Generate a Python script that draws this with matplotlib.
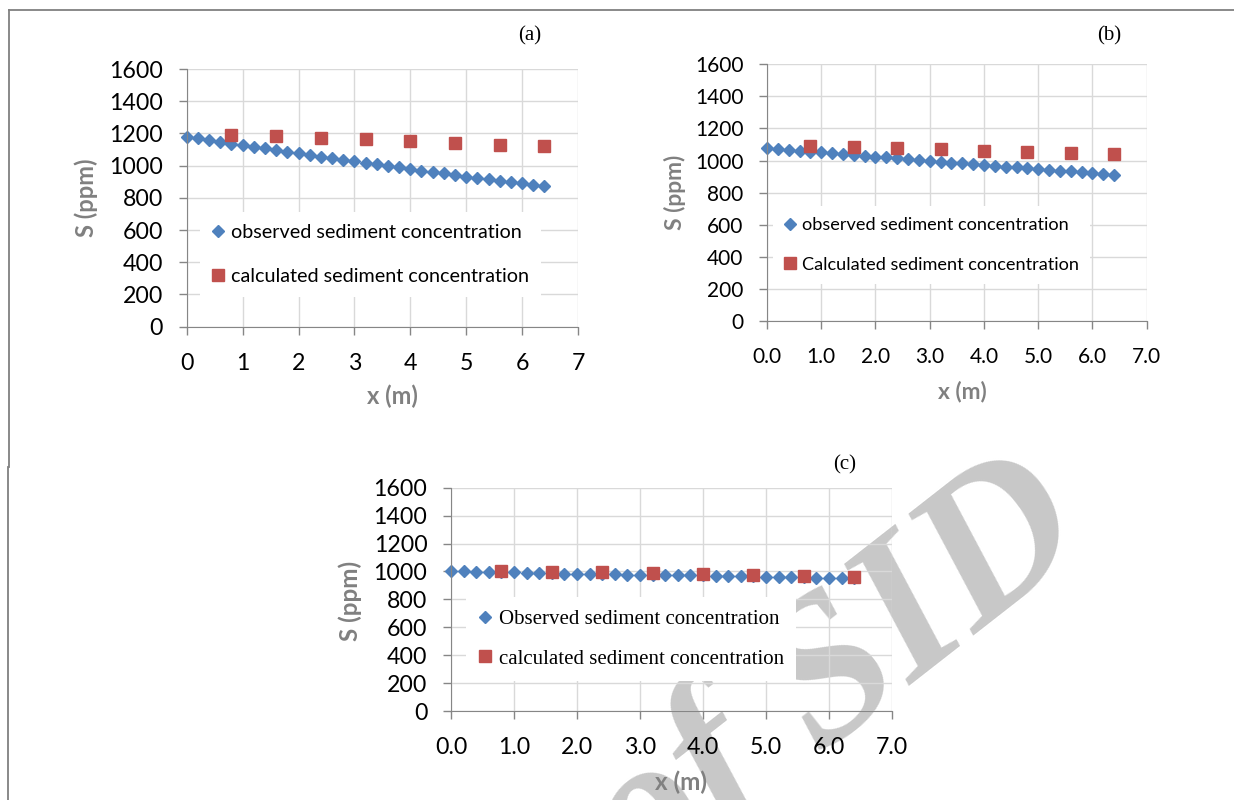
import matplotlib.pyplot as plt
from matplotlib.lines import Line2D

# x positions (m)
x_obs = [0.0, 0.2, 0.4, 0.6, 0.8, 1.0, 1.2, 1.4, 1.6, 1.8, 2.0, 2.2, 2.4, 2.6, 2.8, 3.0,
         3.2, 3.4, 3.6, 3.8, 4.0, 4.2, 4.4, 4.6, 4.8, 5.0, 5.2, 5.4, 5.6, 5.8, 6.0, 6.2, 6.4]
x_calc = [0.8, 1.6, 2.4, 3.2, 4.0, 4.8, 5.6, 6.4]

# sediment concentration S (ppm)
obs_a = [1175, 1169, 1159, 1146, 1134, 1126, 1117, 1107, 1097, 1086, 1076, 1066, 1055, 1045, 1035, 1026,
         1018, 1008, 1000, 991, 979, 969, 960, 952, 941, 931, 921, 914, 904, 896, 890, 881, 871]
calc_a = [1188, 1181, 1173, 1163, 1150, 1140, 1128, 1121]

obs_b = [1077, 1075, 1067, 1062, 1055, 1052, 1046, 1042, 1035, 1031, 1025, 1021, 1015, 1012, 1004, 1000,
         994, 987, 983, 979, 973, 967, 962, 960, 952, 946, 944, 937, 935, 927, 923, 919, 912]
calc_b = [1090, 1083, 1079, 1073, 1062, 1056, 1048, 1042]

obs_c = [1002, 1000, 998, 998, 994, 993, 990, 990, 988, 985, 983, 983, 980, 980, 978, 978,
         976, 973, 973, 973, 971, 968, 968, 968, 966, 963, 961, 961, 959, 956, 954, 952, 950]
calc_c = [1000, 998, 995, 988, 980, 973, 966, 957]

W, H = 1234, 800
BLUE = '#4F81BD'
RED = '#C0504D'
GREY = '#808080'


def fx(px):
    return px / W


def fy(py):
    return 1 - py / H


fig = plt.figure(figsize=(W / 100, H / 100), dpi=100)

# page frame lines
fig.add_artist(Line2D([fx(8.5), 1], [fy(9.5), fy(9.5)], color=GREY, lw=1.3))
fig.add_artist(Line2D([fx(9), fx(9)], [fy(9.5), fy(467)], color=GREY, lw=1.3))
fig.add_artist(Line2D([fx(7.5), fx(7.5)], [fy(467), 0], color=GREY, lw=1.3))

# watermark
fig.text(fx(1097), fy(548), 'Archive of SID', rotation=38, rotation_mode='anchor',
         ha='right', va='baseline', fontsize=150, family='Liberation Serif', style='italic',
         fontweight='bold', color='#C8C8C8', zorder=-5)


def panel(box, obs, calc, labels, tick_fs, lab_fs, leg_font, leg_fs, leg_xy, leg_sp,
          obs_label, calc_label, xlab_xy, ylab_xy, tag, tag_xy):
    left, top, right, bottom = box
    ax = fig.add_axes([fx(left), fy(bottom), fx(right - left), (bottom - top) / H])
    ax.set_facecolor('none')
    ax.plot(x_obs, obs, 'D', color=BLUE, markersize=6.4, label=obs_label, clip_on=False)
    ax.plot(x_calc, calc, 's', color=RED, markersize=8.3, label=calc_label, clip_on=False)
    ax.set_xlim(0, 7)
    ax.set_ylim(0, 1600)
    ax.set_xticks(range(8))
    ax.set_xticklabels(labels)
    ax.set_yticks(range(0, 1601, 200))
    ax.grid(True, color='#D9D9D9', lw=1)
    ax.set_axisbelow(True)
    for s in ['top', 'right']:
        ax.spines[s].set_visible(False)
    for s in ['left', 'bottom']:
        ax.spines[s].set_color('#868686')
    ax.tick_params(direction='out', length=6, width=1, color='#868686',
                   labelsize=tick_fs, pad=11)
    ax.tick_params(axis='x', pad=13)
    for t in ax.get_xticklabels() + ax.get_yticklabels():
        t.set_family('Lato')
    ax.legend(loc='center left', bbox_to_anchor=leg_xy, frameon=True,
              fancybox=False, framealpha=1, edgecolor='none', facecolor='white',
              prop={'family': leg_font, 'size': leg_fs}, handlelength=0.6,
              handletextpad=0.35, labelspacing=leg_sp, borderpad=0.6, borderaxespad=0)
    fig.text(fx(xlab_xy[0]), fy(xlab_xy[1]), 'x (m)', ha='center', va='center',
             fontsize=lab_fs, fontweight='bold', color=GREY, family='Lato')
    fig.text(fx(ylab_xy[0]), fy(ylab_xy[1]), 'S (ppm)', ha='center', va='center',
             rotation=90, fontsize=lab_fs, fontweight='bold', color=GREY, family='Lato')
    fig.text(fx(tag_xy[0]), fy(tag_xy[1]), tag, ha='center', va='center',
             fontsize=15, family='Liberation Serif')
    return ax


int_labels = ['0', '1', '2', '3', '4', '5', '6', '7']
dec_labels = ['0.0', '1.0', '2.0', '3.0', '4.0', '5.0', '6.0', '7.0']

panel((186.7, 69, 578, 326.7), obs_a, calc_a, int_labels, 16.7, 17, 'Lato', 14.2, (0.035, 0.28), 1.38,
      'observed sediment concentration', 'calculated sediment concentration',
      (392, 396), (86, 198), '(a)', (530, 36))
panel((767, 64.3, 1146.7, 321), obs_b, calc_b, dec_labels, 15, 16.4, 'Lato', 13.1, (0.017, 0.296), 1.3,
      'observed sediment concentration', 'Calculated sediment concentration',
      (962, 392), (675, 192), '(b)', (1109, 36))
panel((451, 487.7, 892, 711), obs_c, calc_c, dec_labels, 16.7, 17.4, 'Liberation Serif', 15, (0.035, 0.322), 0.95,
      'Observed sediment concentration', 'calculated sediment concentration',
      (681, 782), (350, 601), '(c)', (845, 465))

fig.savefig('out.png', dpi=100)
